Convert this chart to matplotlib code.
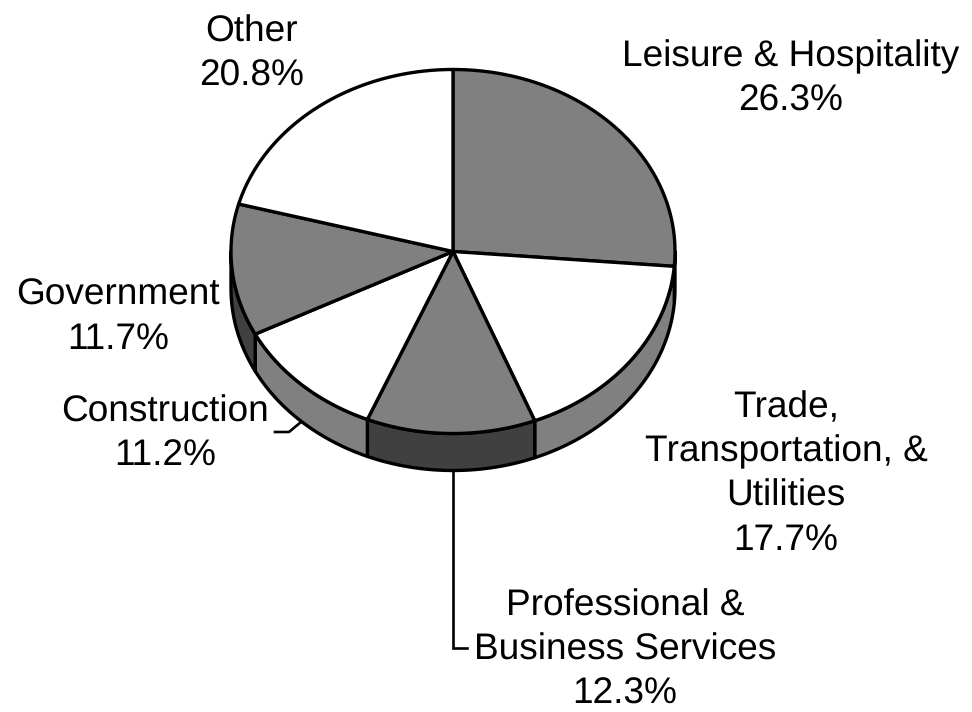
import numpy as np
import matplotlib
matplotlib.use("Agg")
import matplotlib.pyplot as plt
from matplotlib.patches import Polygon

categories = ["Leisure & Hospitality", "Trade,\nTransportation, &\nUtilities", "Professional &\nBusiness Services",
              "Construction", "Government", "Other"]
shares = [26.3, 17.7, 12.3, 11.2, 11.7, 20.8]
top_colors = ["#808080", "#ffffff", "#808080", "#ffffff", "#808080", "#ffffff"]
side_colors = ["#808080", "#808080", "#404040", "#808080", "#404040", "#808080"]
label_anchor = [(791, 79), (786, 474), (625, 650), (165, 434), (118, 317), (252, 54)]

CX, CY, RX, RY, DEPTH = 453, 251.5, 222, 182, 37
LW = 2.4

plt.rcParams["font.family"] = ["Liberation Sans", "DejaVu Sans"]
plt.rcParams["text.hinting"] = "none"
plt.rcParams["text.hinting_factor"] = 1
fig = plt.figure(figsize=(9.72, 7.12), dpi=100, facecolor="white")
ax = fig.add_axes([0, 0, 1, 1])
ax.set_xlim(0, 972)
ax.set_ylim(712, 0)
ax.axis("off")


def rim(t0, t1, dy=0.0):
    t = np.radians(np.linspace(t0, t1, 200))
    return np.column_stack([CX + RX * np.sin(t), CY + dy + RY * -np.cos(t)])


edges = np.concatenate([[0], np.cumsum(shares)]) / sum(shares) * 360

# side walls (front half of the pie only)
for i in range(len(shares)):
    a, b = max(edges[i], 90), min(edges[i + 1], 270)
    if b > a:
        pts = np.vstack([rim(a, b), rim(a, b, DEPTH)[::-1]])
        ax.add_patch(Polygon(pts, closed=True, fc=side_colors[i], ec="black", lw=LW, joinstyle="round", zorder=2))

# top slices
for i in range(len(shares)):
    pts = np.vstack([[CX, CY], rim(edges[i], edges[i + 1])])
    ax.add_patch(Polygon(pts, closed=True, fc=top_colors[i], ec="black", lw=LW, joinstyle="round", zorder=3))

# leader lines
ax.plot([453, 453, 467], [CY + RY + DEPTH, 648, 648], color="black", lw=1.9, zorder=1, solid_joinstyle="miter")
ax.plot([275, 289, 301], [432, 432, 422], color="black", lw=1.9, zorder=1)

for name, share, (x, y) in zip(categories, shares, label_anchor):
    ax.text(x, y, f"{name}\n{share:.1f}%", ha="center", va="center", fontsize=26.6, color="black",
            linespacing=1.36, zorder=4)

fig.savefig("out.png", dpi=100, facecolor="white")
